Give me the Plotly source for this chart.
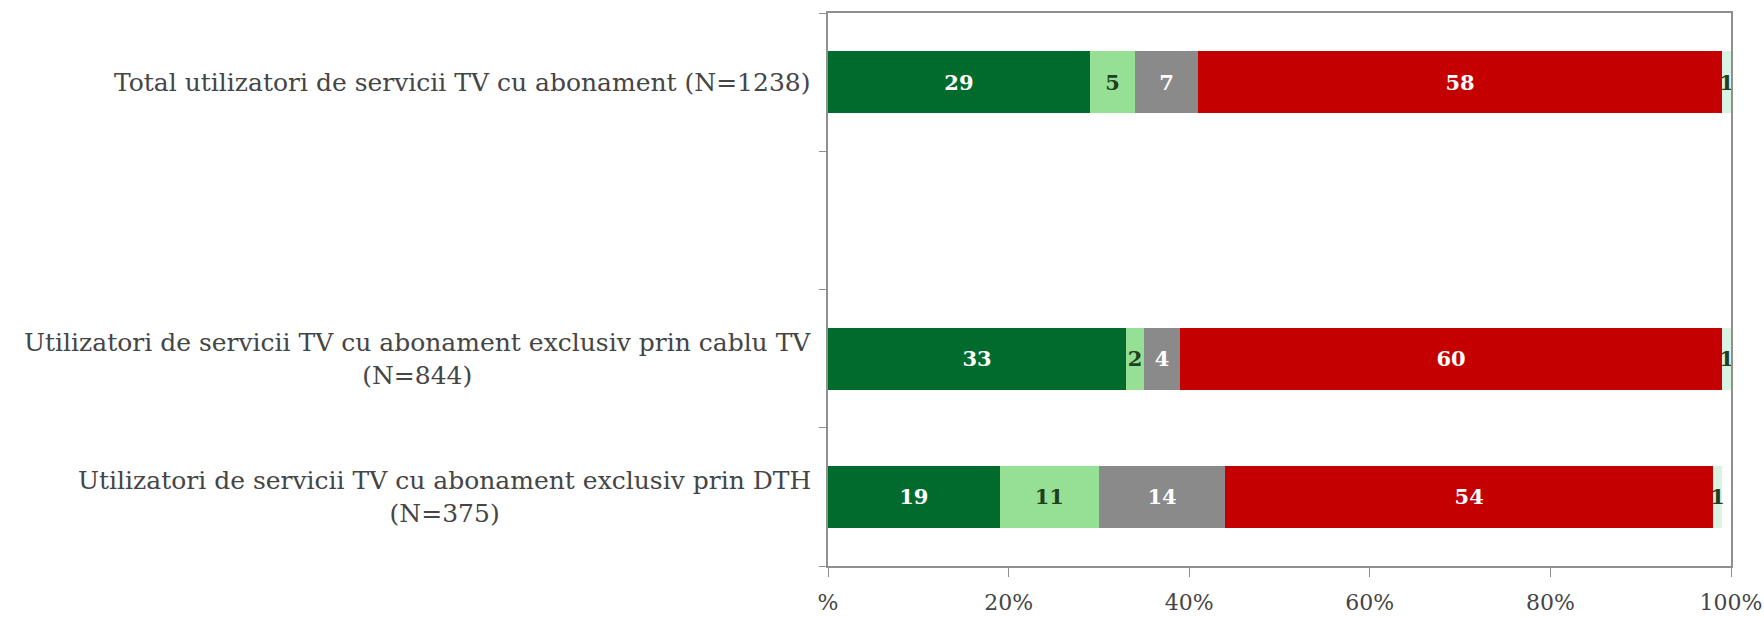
import plotly.graph_objects as go

categories = [
    "Total utilizatori de servicii TV cu abonament (N=1238)",
    "",
    "Utilizatori de servicii TV cu abonament exclusiv prin cablu TV<br>(N=844)",
    "Utilizatori de servicii TV cu abonament exclusiv prin DTH<br>(N=375)",
]
positions = [0, 2, 3]
row_labels = [categories[0], categories[2], categories[3]]

seg1 = [29, 33, 19]
seg2 = [5, 2, 11]
seg3 = [7, 4, 14]
seg4 = [58, 60, 54]
seg5 = [1, 1, 1]

series = [seg1, seg2, seg3, seg4, seg5]
colors = ["#006b2d", "#96e096", "#8a8a8a", "#c40000", "#d8f2e4"]
text_colors = ["white", "#1f3f1f", "white", "white", "#1f3f1f"]

x_tickvals = [0, 20, 40, 60, 80, 100]
x_ticktext = ["%", "20%", "40%", "60%", "80%", "100%"]

FONT = "DejaVu Serif"

fig = go.Figure()
for vals, col, tcol in zip(series, colors, text_colors):
    fig.add_trace(go.Bar(
        y=positions, x=vals, orientation="h", width=0.45,
        marker=dict(color=col, line=dict(width=0)),
        text=[str(v) for v in vals], textposition="inside",
        insidetextanchor="middle", constraintext="none",
        textfont=dict(family=FONT, size=21, color=tcol, weight="bold"),
        cliponaxis=False, showlegend=False, hoverinfo="skip",
    ))

for p, lab in zip(positions, row_labels):
    fig.add_annotation(
        x=0, xref="paper", xshift=-15, y=p, yref="y", text=lab, showarrow=False,
        xanchor="right", yanchor="middle", align="center",
        font=dict(family=FONT, size=25, color="#454545"),
    )

fig.update_layout(
    width=1764, height=618,
    margin=dict(l=828, r=33, t=13, b=52, autoexpand=False),
    paper_bgcolor="white", plot_bgcolor="white",
    barmode="stack",
    xaxis=dict(range=[0, 100], tickvals=x_tickvals, ticktext=x_ticktext,
               automargin=False,
               showgrid=False, zeroline=False, showline=True, mirror=True,
               linecolor="#8f8f8f", linewidth=1.5,
               ticks="outside", ticklen=9, tickcolor="#8f8f8f",
               ticklabelstandoff=7,
               tickfont=dict(family=FONT, size=22, color="#454545")),
    yaxis=dict(range=[3.5, -0.5], tickvals=[-0.5, 0.5, 1.5, 2.5, 3.5],
               ticktext=["", "", "", "", ""], automargin=False,
               showgrid=False, zeroline=False, showline=True, mirror=True,
               linecolor="#8f8f8f", linewidth=1.5,
               ticks="outside", ticklen=7, tickcolor="#8f8f8f"),
)

fig.write_html("out.html", config={"displayModeBar": False},
               post_script="document.body.style.margin='0';document.body.style.overflow='hidden';")
